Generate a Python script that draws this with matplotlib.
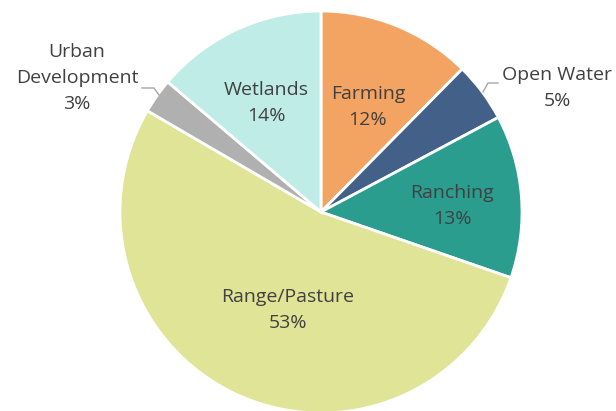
import matplotlib.pyplot as plt

plt.rcParams['font.family'] = ['Open Sans', 'DejaVu Sans']

categories = ['Farming', 'Open Water', 'Ranching', 'Range/Pasture',
              'Urban\nDevelopment', 'Wetlands']
shares = [12.4, 4.8, 13.1, 53.1, 2.8, 13.8]
colors = ['#F4A462', '#436188', '#2A9D8F', '#E0E497', '#B0B0B0', '#C0ECE8']

# label centres in pixel coords (x, y from top)
label_pos = [(368, 107), (557, 88), (452, 206), (288, 310), (77, 78), (266, 103)]

H = 411
fig = plt.figure(figsize=(6.16, 4.11), dpi=100)
ax = fig.add_axes([0, 0, 1, 1])

cx, cy, r = 321, H - 212, 201
wedges, _ = ax.pie(shares, colors=colors, startangle=90, counterclock=False,
                   center=(cx, cy), radius=r, frame=True,
                   wedgeprops=dict(edgecolor='white', linewidth=2))
ax.set_xlim(0, 616)
ax.set_ylim(0, H)
ax.axis('off')

for name, val, (x, y) in zip(categories, shares, label_pos):
    ax.text(x, H - y, f"{name}\n{round(val)}%", ha='center', va='center',
            fontsize=14, color='#404040', linespacing=1.6)

# leader lines for the outside labels
ax.plot([498, 488, 483], [H - 83, H - 83, H - 92], color='#A6A6A6', lw=1)
ax.plot([142, 154, 159], [H - 88, H - 88, H - 95], color='#A6A6A6', lw=1)

fig.savefig('out.png', dpi=100)
